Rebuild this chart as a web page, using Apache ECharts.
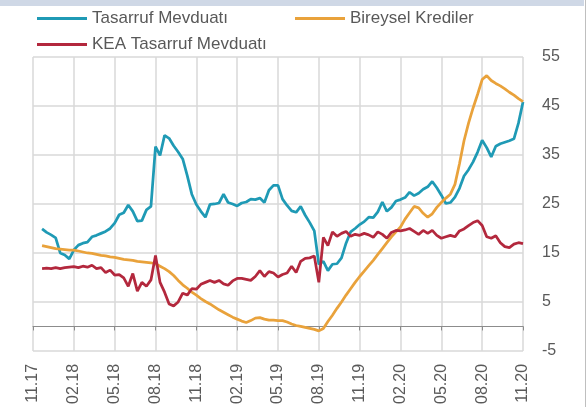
<!DOCTYPE html>
<html>
<head>
<meta charset="utf-8">
<script src="https://cdn.jsdelivr.net/npm/echarts@6/dist/echarts.min.js"></script>
<style>
  html, body { margin: 0; padding: 0; background: #fff; }
  #chart { width: 586px; height: 407px; }
</style>
</head>
<body>
<div id="chart"></div>
<script>
// 3 points per month, 11.17 -> 11.20
const tickLabels = ["11.17", "02.18", "05.18", "08.18", "11.18", "02.19", "05.19", "08.19", "11.19", "02.20", "05.20", "08.20", "11.20"];
const categories = Array.from({ length: 109 }, (_, i) => String(i));

const tasarruf = [null, null,
  19.9, 19.2, 18.7, 18.1, 15.0, 14.6, 13.8, 15.6, 16.6, 17.0,
  17.2, 18.3, 18.6, 19.0, 19.4, 20.0, 21.1, 22.8, 23.2, 24.8,
  23.5, 21.5, 21.6, 23.8, 24.5, 36.7, 34.9, 39.0, 38.4, 36.9,
  35.6, 34.2, 30.8, 27.0, 24.9, 23.5, 22.3, 24.9, 25.0, 25.2,
  27.0, 25.3, 25.0, 24.6, 25.2, 25.4, 26.0, 25.9, 26.2, 25.3,
  27.8, 28.8, 28.8, 26.0, 24.7, 23.6, 23.3, 24.5, 22.7, 21.2,
  19.5, 12.7, 13.3, 11.4, 12.7, 12.8, 14.0, 17.0, 19.3, 20.0,
  20.8, 21.4, 22.3, 22.2, 23.4, 25.4, 23.5, 24.3, 25.6, 25.9,
  26.3, 27.4, 26.7, 27.2, 28.0, 28.5, 29.6, 28.3, 26.8, 25.1,
  25.3, 26.4, 28.2, 30.7, 32.0, 33.6, 35.6, 38.0, 36.5, 34.6,
  36.8, 37.3, 37.6, 37.9, 38.3, 41.5, 45.8];

const bireysel = [null, null,
  16.5, 16.3, 16.1, 15.9, 15.8, 15.7, 15.6, 15.6, 15.4, 15.2,
  15.0, 14.9, 14.7, 14.5, 14.4, 14.2, 14.1, 13.9, 13.7, 13.6,
  13.5, 13.3, 13.2, 13.1, 13.0, 12.8, 12.3, 11.8, 11.2, 10.4,
  9.4, 8.5, 7.8, 7.0, 6.4, 5.7, 5.1, 4.6, 4.0, 3.4,
  2.9, 2.4, 1.9, 1.5, 1.1, 0.8, 1.2, 1.7, 1.8, 1.5,
  1.3, 1.3, 1.2, 1.2, 0.9, 0.5, 0.2, 0.0, -0.2, -0.4,
  -0.6, -0.9, -0.4, 1.0, 2.3, 3.7, 5.0, 6.4, 7.7, 9.0,
  10.2, 11.3, 12.4, 13.5, 14.7, 15.9, 17.1, 18.3, 19.3, 20.3,
  21.9, 23.2, 24.5, 24.2, 23.1, 22.3, 23.0, 24.3, 25.3, 26.2,
  27.0, 29.0, 33.2, 37.9, 41.5, 44.6, 47.4, 50.4, 51.2, 50.2,
  49.6, 49.1, 48.5, 47.8, 47.2, 46.5, 45.9];

const kea = [null, null,
  11.8, 11.9, 11.8, 12.0, 11.8, 12.0, 12.1, 12.2, 12.0, 12.3,
  12.1, 12.5, 11.8, 12.0, 11.0, 11.5, 10.5, 10.6, 9.9, 8.2,
  10.8, 7.2, 9.0, 8.2, 9.5, 14.5, 9.0, 7.0, 4.6, 4.2,
  5.0, 6.8, 6.4, 7.7, 7.6, 8.6, 9.0, 9.4, 9.0, 9.4,
  8.7, 8.4, 9.3, 9.8, 9.8, 9.6, 9.4, 10.2, 11.4, 10.2,
  11.2, 10.9, 10.1, 10.6, 10.9, 12.3, 11.0, 13.3, 13.9, 14.0,
  14.4, 9.0, 18.2, 16.5, 19.3, 18.4, 19.0, 19.4, 18.4, 18.8,
  18.6, 19.0, 18.7, 18.2, 19.3, 18.8, 18.0, 19.2, 19.6, 19.5,
  19.7, 20.0, 19.4, 18.8, 19.6, 19.0, 19.6, 18.6, 18.0, 18.3,
  18.6, 18.3, 19.5, 19.9, 20.6, 21.2, 21.6, 20.6, 18.3, 18.0,
  18.5, 17.1, 16.3, 16.1, 16.8, 17.1, 16.9];

const textColor = "#595959";
const font = "Liberation Sans";

let chart = echarts.init(document.getElementById("chart"));

const legendBase = {
  selectedMode: false,
  icon: "rect",
  padding: 0,
  itemWidth: 50,
  itemHeight: 3,
  textStyle: { color: textColor, fontSize: 17, fontFamily: font }
};

chart.setOption({
  animation: false,
  backgroundColor: "#fff",
  graphic: [
    { type: "rect", left: 0, top: 0, shape: { width: 584, height: 6 }, style: { fill: "#cfd8e6" } },
    { type: "rect", left: 585, top: 0, shape: { width: 1, height: 407 }, style: { fill: "#bfbfbf" } }
  ],
  legend: [
    Object.assign({ left: 37, top: 10, data: ["Tasarruf Mevduatı"] }, legendBase),
    Object.assign({ left: 295, top: 10, data: ["Bireysel Krediler"] }, legendBase),
    Object.assign({ left: 37, top: 36, data: ["KEA Tasarruf Mevduatı"] }, legendBase)
  ],
  grid: { left: 33, right: 63, top: 57, bottom: 55 },
  xAxis: [
    {
      type: "category",
      data: categories,
      boundaryGap: false,
      position: "bottom",
      axisLine: { onZero: true, lineStyle: { color: "#8c8c8c", width: 1 } },
      axisTick: { show: true, interval: 8, length: 4, lineStyle: { color: "#8c8c8c" } },
      axisLabel: { show: false },
      splitLine: { show: true, interval: 8, lineStyle: { color: "#d9d9d9", width: 1.5 } }
    },
    {
      type: "category",
      data: categories,
      boundaryGap: false,
      position: "bottom",
      axisLine: { show: false, onZero: false },
      axisTick: { show: false },
      axisLabel: {
        interval: 8,
        rotate: 90,
        margin: 13,
        color: textColor,
        fontSize: 16,
        fontFamily: font,
        formatter: function (value, idx) {
          return idx % 9 === 0 ? tickLabels[idx / 9] : "";
        }
      },
      splitLine: { show: false }
    }
  ],
  yAxis: {
    type: "value",
    position: "right",
    min: -5,
    max: 55,
    interval: 10,
    axisLine: { show: false },
    axisTick: { show: false },
    axisLabel: { color: textColor, fontSize: 16, fontFamily: font, align: "left", margin: 19 },
    splitLine: { lineStyle: { color: "#d9d9d9", width: 1.5 } }
  },
  series: [
    {
      name: "Tasarruf Mevduatı",
      type: "line",
      data: tasarruf,
      symbol: "none",
      lineStyle: { width: 2.75, color: "#1f9ab5" },
      itemStyle: { color: "#1f9ab5" }
    },
    {
      name: "Bireysel Krediler",
      type: "line",
      data: bireysel,
      symbol: "none",
      lineStyle: { width: 2.75, color: "#e9a23b" },
      itemStyle: { color: "#e9a23b" }
    },
    {
      name: "KEA Tasarruf Mevduatı",
      type: "line",
      data: kea,
      symbol: "none",
      lineStyle: { width: 2.75, color: "#b3283d" },
      itemStyle: { color: "#b3283d" }
    }
  ]
});
</script>
</body>
</html>
